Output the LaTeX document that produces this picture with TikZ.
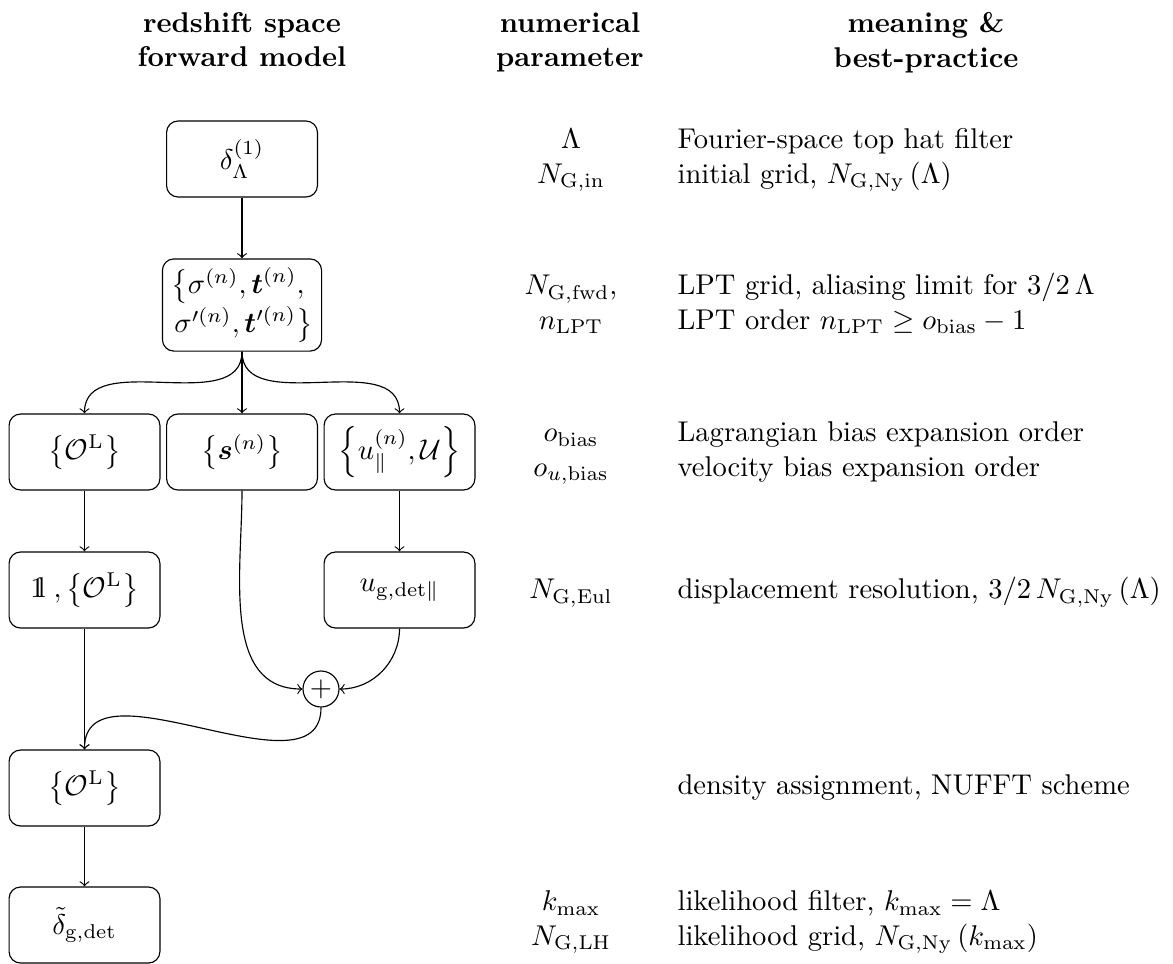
\documentclass[tikz,border=0pt]{standalone}
\usepackage{amsmath,amssymb}
\newcommand{\unitone}{\mathrm{1\hspace{-2.4pt}l}}
\begin{document}
\begin{tikzpicture}[x=0.35pt,y=-0.35pt,
  box/.style={draw, rounded corners=4pt, minimum width=52.8pt, minimum height=26.6pt, inner sep=3pt, align=center},
  sumnode/.style={draw, circle, inner sep=0pt, minimum size=12.6pt},
  head/.style={font=\bfseries, align=center, anchor=north, inner sep=0pt},
  param/.style={align=center, inner sep=0pt},
  desc/.style={align=left, anchor=west, inner sep=0pt},
  conn/.style={->, >=to}
]
\useasboundingbox (0,0) rectangle (1173,963);

% headers
\node[head] (h1) at (242,12) {redshift space\\forward model};
\node[head] (h2) at (570,12) {numerical\\parameter};
\node[head] (h3) at (926,12) {meaning \&\\best-practice};

% forward model boxes
\node[box] (b1) at (242,159) {$\delta_\Lambda^{(1)}$};
\node[box] (b2) at (242,305) {$\left\{\sigma^{(n)},\boldsymbol{t}^{(n)},\right.$\\$\left.\sigma'^{(n)},\boldsymbol{t}'^{(n)}\right\}$};
\node[box] (r3l) at (84.5,452) {$\left\{\mathcal{O}^{\mathrm{L}}\right\}$};
\node[box] (r3m) at (242,452) {$\left\{\boldsymbol{s}^{(n)}\right\}$};
\node[box] (r3r) at (399.5,452) {$\left\{u_\parallel^{(n)},\mathcal{U}\right\}$};
\node[box] (r4l) at (84.5,590) {$\unitone\;,\left\{\mathcal{O}^{\mathrm{L}}\right\}$};
\node[box] (r4r) at (399.5,590) {$u_{\mathrm{g,det}\|}$};
\node[sumnode] (sum) at (321,689) {$+$};
\node[box] (r5) at (84.5,788) {$\left\{\mathcal{O}^{\mathrm{L}}\right\}$};
\node[box] (r6) at (84.5,925) {$\tilde\delta_{\mathrm{g,det}}$};

% connectors
\draw[conn] (b1) -- (b2);
\draw[conn] (b2.south) to[out=-90,in=90] (r3l.north);
\draw[conn] (b2.south) -- (r3m.north);
\draw[conn] (b2.south) to[out=-90,in=90] (r3r.north);
\draw[conn] (r3l) -- (r4l);
\draw[conn] (r3r) -- (r4r);
\draw[conn] (r3m.south) to[out=-90,in=180] (sum.west);
\draw[conn] (r4r.south) to[out=-90,in=0] (sum.east);
\draw[conn] (r4l) -- (r5);
\draw[conn] (sum.south) to[out=-90,in=90] (r5.north);
\draw[conn] (r5) -- (r6);

% parameters
\node[param] (p1) at (571,159) {\strut$\Lambda$\\\strut$N_{\mathrm{G,in}}$};
\node[param] (p2) at (571,305) {\strut$N_{\mathrm{G,fwd}}$,\\\strut$n_{\mathrm{LPT}}$};
\node[param] (p3) at (571,452) {\strut$o_{\mathrm{bias}}$\\\strut$o_{u,\mathrm{bias}}$};
\node[param] (p4) at (571,592) {\strut$N_{\mathrm{G,Eul}}$};
\node[param] (p6) at (571,921) {\strut$k_{\max}$\\\strut$N_{\mathrm{G,LH}}$};

% descriptions
\node[desc] (d1) at (677,159) {\strut Fourier-space top hat filter\\\strut initial grid, $N_{\mathrm{G,Ny}}\left(\Lambda\right)$};
\node[desc] (d2) at (677,305) {\strut LPT grid, aliasing limit for $3/2\,\Lambda$\\\strut LPT order $n_{\mathrm{LPT}}\geq o_{\mathrm{bias}}-1$};
\node[desc] (d3) at (677,452) {\strut Lagrangian bias expansion order\\\strut velocity bias expansion order};
\node[desc] (d4) at (677,592) {\strut displacement resolution, $3/2\,N_{\mathrm{G,Ny}}\left(\Lambda\right)$};
\node[desc] (d5) at (677,788) {\strut density assignment, NUFFT scheme};
\node[desc] (d6) at (677,921) {\strut likelihood filter, $k_{\max}=\Lambda$\\\strut likelihood grid, $N_{\mathrm{G,Ny}}\left(k_{\max}\right)$};
\end{tikzpicture}
\end{document}
